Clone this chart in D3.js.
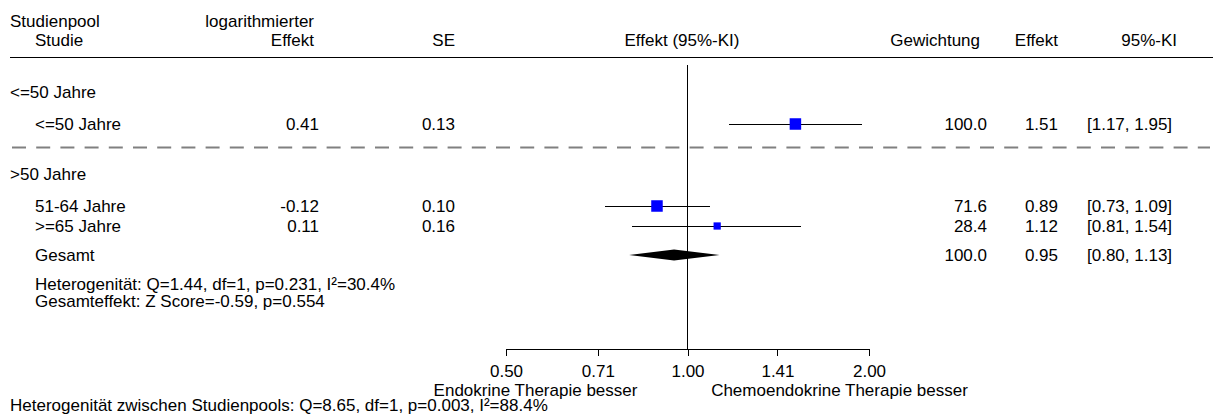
<!DOCTYPE html>
<html>
<head>
<meta charset="utf-8">
<script src="https://cdn.jsdelivr.net/npm/d3@7"></script>
<style>
  html, body { margin: 0; padding: 0; background: #fff; }
  svg { display: block; }
  text { font-family: "Liberation Sans", Arial, Helvetica, sans-serif; font-size: 17px; fill: #000; }
</style>
</head>
<body>
<svg id="chart" width="1215" height="417"></svg>
<script>
// Subgroup meta-analysis by age
const groupLabels = ["<=50 Jahre", ">50 Jahre"];
const studyLabels = ["<=50 Jahre", "51-64 Jahre", ">=65 Jahre"];
const studyGroup = [0, 1, 1];
const logEffect = [0.41, -0.12, 0.11];
const stdErr = [0.13, 0.10, 0.16];
const weights = [100.0, 71.6, 28.4];
const effects = [1.51, 0.89, 1.12];
const ciLower = [1.17, 0.73, 0.81];
const ciUpper = [1.95, 1.09, 1.54];

// Pooled estimate for the >50 group
const pooledLabel = "Gesamt";
const pooledEffect = [0.95];
const pooledLower = [0.80];
const pooledUpper = [1.13];
const pooledWeight = [100.0];

const tickValues = [0.50, 0.71, 1.00, 1.41, 2.00];
const headerRow1 = ["Studienpool", "logarithmierter"];
const headerRow2 = ["Studie", "Effekt", "SE", "Effekt (95%-KI)", "Gewichtung", "Effekt", "95%-KI"];
const heteroText = "Heterogenität: Q=1.44, df=1, p=0.231, I²=30.4%";
const overallText = "Gesamteffekt: Z Score=-0.59, p=0.554";
const leftDirection = "Endokrine Therapie besser";
const rightDirection = "Chemoendokrine Therapie besser";
const betweenText = "Heterogenität zwischen Studienpools: Q=8.65, df=1, p=0.003, I²=88.4%";

const svg = d3.select("#chart");

// Log-scaled effect axis
const x = d3.scaleLog().domain([0.5, 2]).range([506, 869]);

// Column anchors
const col = {
  group: 10, study: 35, logR: 319, logHeadR: 314, seR: 455,
  plotHead: 682, wR: 987, wHeadR: 980, effR: 1058, ciL: 1087, ciHeadR: 1177
};

// Vertical layout of the rows (text centre lines unless noted as baselines)
const rowY = {
  head1: 27, head2: 46, headLine: 57.5,
  group: [92, 174], study: [124, 206, 226],
  pooled: 255, dash: 147.5, hetero: 284, overall: 301,
  axis: 348.5, tickLab: 377, dir: 396, between: 411
};

const mid = "0.35em";
const fmt2 = v => d3.format(".2f")(v).replace("\u2212", "-");
const fmt1 = d3.format(".1f");
const ciText = (lo, hi) => `[${fmt2(lo)}, ${fmt2(hi)}]`;

function txt(xp, yp, s, anchor, dy) {
  return svg.append("text").attr("x", xp).attr("y", yp)
    .attr("dy", dy || null).attr("text-anchor", anchor || "start").text(s);
}

// Header
txt(col.group, rowY.head1, headerRow1[0]);
txt(col.logHeadR, rowY.head1, headerRow1[1], "end");
txt(col.study, rowY.head2, headerRow2[0]);
txt(col.logHeadR, rowY.head2, headerRow2[1], "end");
txt(col.seR, rowY.head2, headerRow2[2], "end");
txt(col.plotHead, rowY.head2, headerRow2[3], "middle");
txt(col.wHeadR, rowY.head2, headerRow2[4], "end");
txt(col.effR, rowY.head2, headerRow2[5], "end");
txt(col.ciHeadR, rowY.head2, headerRow2[6], "end");

svg.append("line").attr("x1", 10).attr("x2", 1213)
  .attr("y1", rowY.headLine).attr("y2", rowY.headLine)
  .attr("stroke", "#000").attr("stroke-width", 1).attr("shape-rendering", "crispEdges");

// Line of no effect
svg.append("line").attr("x1", x(1)).attr("x2", x(1))
  .attr("y1", 65).attr("y2", rowY.axis)
  .attr("stroke", "#000").attr("stroke-width", 1).attr("shape-rendering", "crispEdges");

// Group headings
groupLabels.forEach((g, i) => txt(col.group, rowY.group[i], g, "start", mid));

// Separator between subgroups
svg.append("line").attr("x1", 12).attr("x2", 1210)
  .attr("y1", rowY.dash).attr("y2", rowY.dash)
  .attr("stroke", "#808080").attr("stroke-width", 2)
  .attr("stroke-dasharray", "14 10.2");

// Square side scales with sqrt of weight relative to the largest in its group
const maxW = groupLabels.map((_, gi) => d3.max(weights.filter((w, i) => studyGroup[i] === gi)));
const side = d3.scaleSqrt().domain([0, 1]).range([0, 11.5]);

studyLabels.forEach((s, i) => {
  const y = rowY.study[i];
  txt(col.study, y, s, "start", mid);
  txt(col.logR, y, fmt2(logEffect[i]), "end", mid);
  txt(col.seR, y, fmt2(stdErr[i]), "end", mid);
  txt(col.wR, y, fmt1(weights[i]), "end", mid);
  txt(col.effR, y, fmt2(effects[i]), "end", mid);
  txt(col.ciL, y, ciText(ciLower[i], ciUpper[i]), "start", mid);

  svg.append("line").attr("x1", x(ciLower[i])).attr("x2", x(ciUpper[i]))
    .attr("y1", y + 0.5).attr("y2", y + 0.5)
    .attr("stroke", "#000").attr("stroke-width", 1).attr("shape-rendering", "crispEdges");
  const sz = side(weights[i] / maxW[studyGroup[i]]);
  svg.append("rect").attr("x", x(effects[i]) - sz / 2).attr("y", y - sz / 2)
    .attr("width", sz).attr("height", sz).attr("fill", "#0000ff");
});

// Pooled diamond
{
  const y = rowY.pooled;
  txt(col.study, y, pooledLabel, "start", mid);
  txt(col.wR, y, fmt1(pooledWeight[0]), "end", mid);
  txt(col.effR, y, fmt2(pooledEffect[0]), "end", mid);
  txt(col.ciL, y, ciText(pooledLower[0], pooledUpper[0]), "start", mid);
  const h = 5.5;
  const pts = [[x(pooledLower[0]), y], [x(pooledEffect[0]), y - h],
               [x(pooledUpper[0]), y], [x(pooledEffect[0]), y + h]];
  svg.append("path").attr("d", d3.line()(pts) + "Z").attr("fill", "#000");
}

txt(col.study, rowY.hetero, heteroText, "start", mid);
txt(col.study, rowY.overall, overallText, "start", mid);

// Axis
const axis = d3.axisBottom(x).tickValues(tickValues).tickFormat(fmt2).tickSize(7).tickSizeOuter(0);
const gAxis = svg.append("g").attr("transform", `translate(0,${rowY.axis})`).call(axis);
gAxis.select(".domain").attr("stroke", "#000").attr("stroke-width", 1).attr("shape-rendering", "crispEdges");
gAxis.selectAll(".tick line").attr("stroke", "#000").attr("stroke-width", 1).attr("shape-rendering", "crispEdges");
gAxis.selectAll(".tick text").attr("y", rowY.tickLab - rowY.axis).attr("dy", null)
  .style("font-family", '"Liberation Sans", Arial, sans-serif').style("font-size", "17px").attr("fill", "#000");

txt(x(1) - 152, rowY.dir, leftDirection, "middle");
txt(x(1) + 152, rowY.dir, rightDirection, "middle");
txt(col.group, rowY.between, betweenText, "start");
</script>
</body>
</html>
